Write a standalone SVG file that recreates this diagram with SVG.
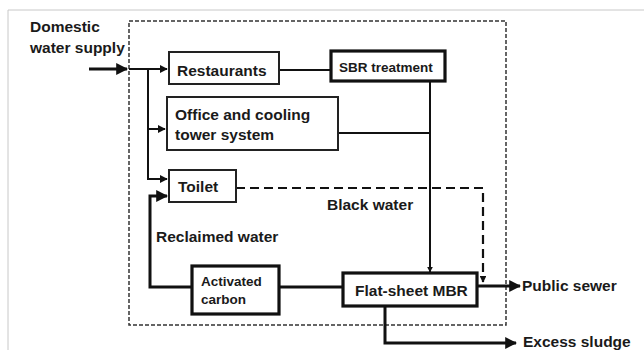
<svg xmlns="http://www.w3.org/2000/svg" width="644" height="350" viewBox="0 0 644 350">
<style>
text{font-family:"Liberation Sans",Arial,sans-serif;font-weight:bold;fill:#1a1a1a}
.t{font-size:15.5px}
.s{font-size:13.5px}
.box{fill:#fff;stroke:#222;stroke-width:2}
.tbox{fill:#fff;stroke:#111;stroke-width:3.2}
.ln{fill:none;stroke:#111;stroke-width:2}
.th{fill:none;stroke:#111;stroke-width:3}
</style>
<defs>
<marker id="ah" viewBox="0 0 10 10" refX="9" refY="5" markerWidth="4" markerHeight="4" orient="auto" markerUnits="strokeWidth"><path d="M0,0 L10,5 L0,10 z" fill="#111"/></marker>
<marker id="ahs" viewBox="0 0 10 10" refX="9" refY="5" markerWidth="3" markerHeight="3" orient="auto" markerUnits="strokeWidth"><path d="M0,0 L10,5 L0,10 z" fill="#111"/></marker>
</defs>
<rect width="644" height="350" fill="#fff"/>
<path d="M8,350 V10 H644" fill="none" stroke="#c8c8c8" stroke-width="1"/>
<rect x="129" y="21" width="377" height="304" fill="none" stroke="#333" stroke-width="1.5" stroke-dasharray="4,2"/>
<g id="connectors">
<path class="th" d="M89,69 H127" marker-end="url(#ah)"/>
<path class="ln" d="M129,69 H167" marker-end="url(#ah)"/>
<path class="ln" d="M148,69 V179 H167" marker-end="url(#ah)"/>
<path class="ln" d="M148,129 H165" marker-end="url(#ah)"/>
<path class="ln" d="M279,70 H331"/>
<path class="ln" d="M430,81 V272" marker-end="url(#ahs)"/>
<path class="ln" d="M338,133 H430"/>
<path class="th" d="M192,287 H150 V196 H167" marker-end="url(#ah)"/>
<path class="th" d="M279,287 H343"/>
<path fill="none" stroke="#111" stroke-width="2.2" stroke-dasharray="9,5" d="M236,188 H483 V282" marker-end="url(#ahs)"/>
<path class="th" d="M477,286 H520" marker-end="url(#ah)"/>
<path class="th" d="M385,306 V343 H516" marker-end="url(#ah)"/>
</g>
<g id="domestic"><text class="t" x="30" y="32">Domestic</text><text class="t" x="30" y="53">water supply</text></g>
<g id="restaurants"><rect class="box" x="169" y="52" width="110" height="32"/><text class="t" x="177" y="76">Restaurants</text></g>
<g id="sbr"><rect class="tbox" x="331" y="51" width="114" height="30"/><text class="s" x="339" y="72">SBR treatment</text></g>
<g id="office"><rect class="box" x="167" y="97" width="171" height="53"/><text class="t" x="175" y="120">Office and cooling</text><text class="t" x="175" y="140">tower system</text></g>
<g id="toilet"><rect class="box" x="169" y="170" width="67" height="32"/><text class="t" x="178" y="192">Toilet</text></g>
<g id="blackwater"><text class="t" x="327" y="210">Black water</text></g>
<g id="reclaimed"><text class="t" x="156" y="242">Reclaimed water</text></g>
<g id="carbon"><rect class="tbox" x="192" y="266" width="87" height="48"/><text class="s" x="201" y="286">Activated</text><text class="s" x="201" y="304">carbon</text></g>
<g id="mbr"><rect class="tbox" x="343" y="273" width="134" height="33"/><text class="t" x="355" y="296">Flat-sheet MBR</text></g>
<g id="sewer"><text class="t" x="522" y="291">Public sewer</text></g>
<g id="sludge"><text class="t" x="523" y="347">Excess sludge</text></g>
</svg>
